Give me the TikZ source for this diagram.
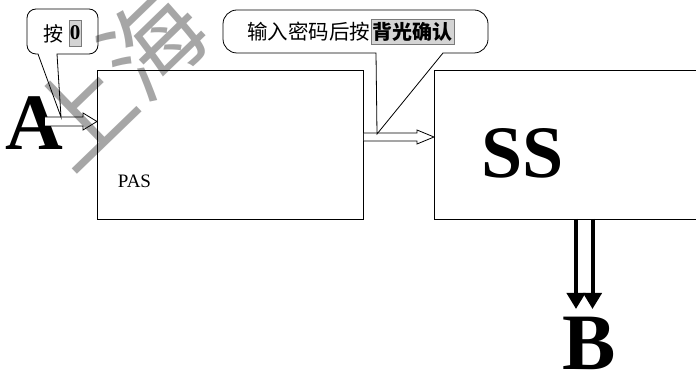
\documentclass[tikz,border=0pt]{standalone}
\usepackage{fontspec}
\setmainfont{Liberation Serif}
\newfontfamily\cjk{Noto Sans CJK SC}
\usetikzlibrary{arrows.meta,calc}
\definecolor{hlfill}{HTML}{D4D4D4}
\definecolor{hldraw}{HTML}{7A7A7A}
\begin{document}
\begin{tikzpicture}[x=1pt,y=-1pt,
  blockbox/.style={draw,line width=0.9pt,anchor=north west,inner sep=0pt},
  hollowarrow/.style={draw,fill=white,line width=0.8pt,line join=miter},
  callout/.style={draw,fill=white,line width=0.8pt},
  hlbox/.style={fill=hlfill,draw=hldraw,line width=0.6pt},
  bigletter/.style={font=\bfseries\fontsize{80}{80}\selectfont,inner sep=0pt},
  downarrow/.style={line width=4pt,-{Triangle[length=16pt,width=18pt]}}]
\useasboundingbox (0,0) rectangle (696,371);
% boxes
\node[blockbox,minimum width=266pt,minimum height=149pt] (pas) at (97,70) {};
\node[blockbox,minimum width=300pt,minimum height=149pt] (ss) at (434,70) {};
\node[font=\fontsize{19}{19}\selectfont,inner sep=0pt] (pastext) at (134.5,181.5) {PAS};
\node[font=\bfseries\fontsize{74}{74}\selectfont,inner sep=0pt] (sstext) at (523,153) {SS};
% letters
\node[bigletter] (A) at (34,123) {A};
\node[bigletter] (B) at (589,343) {B};
% hollow arrow A -> PAS
\coordinate (a0) at (45,121.5);
\coordinate (a1) at (pas.west |- a0);
\draw[hollowarrow] ($(a0)+(0,-4.5)$) -- ($(a1)+(-14,-4.5)$) -- ($(a1)+(-14,-8.5)$) -- (a1)
  -- ($(a1)+(-14,8.5)$) -- ($(a1)+(-14,4.5)$) -- ($(a0)+(0,4.5)$);
% hollow arrow PAS -> SS
\coordinate (b0) at (pas.east |- 0,137);
\coordinate (b1) at (ss.west |- 0,137);
\draw[hollowarrow] ($(b0)+(0,-4)$) -- ($(b1)+(-17,-4)$) -- ($(b1)+(-17,-7)$) -- (b1)
  -- ($(b1)+(-17,7)$) -- ($(b1)+(-17,4)$) -- ($(b0)+(0,4)$);
% down arrows SS -> B
\coordinate (d1) at (576,219);
\coordinate (d2) at (592.5,219);
\draw[downarrow] (d1) -- (d1 |- 0,309);
\draw[downarrow] (d2) -- (d2 |- 0,309);
% callout 1
\coordinate (t1) at (61,117);
\draw[callout] (38,54) [rounded corners=9pt] -- (27,54) -- (27,9) -- (98,9) -- (98,54) [sharp corners] -- (57,54) -- (t1) -- cycle;
\node[font=\cjk\fontsize{20}{20}\selectfont,inner sep=0pt] (k1) at (53,34) {按};
\node[hlbox,minimum width=12pt,minimum height=26pt,inner sep=0pt] (z) at (75,33) {};
\node[font=\bfseries\fontsize{21}{21}\selectfont,inner sep=0pt] (zt) at (z.center) {0};
% callout 2
\coordinate (t2) at (377,134);
\draw[callout] (376,53) [rounded corners=14pt] -- (223,53) -- (223,10) -- (488,10) -- (488,53) [sharp corners] -- (443,53) -- (t2) -- cycle;
\node[hlbox,anchor=west,inner xsep=1.5pt,inner ysep=3pt,font=\cjk\bfseries\fontsize{20}{20}\selectfont] (bg) at (371,32) {背光确认};
\node[anchor=east,inner sep=0pt,font=\cjk\fontsize{20.5}{20.5}\selectfont] (msg) at ([xshift=-0.5pt]bg.west) {输入密码后按};
% watermark
\node[rotate=44,text=black,opacity=0.35,font=\cjk\fontsize{100}{100}\selectfont,inner sep=0pt] (wm) at (117,78) {上海};
\end{tikzpicture}
\end{document}
